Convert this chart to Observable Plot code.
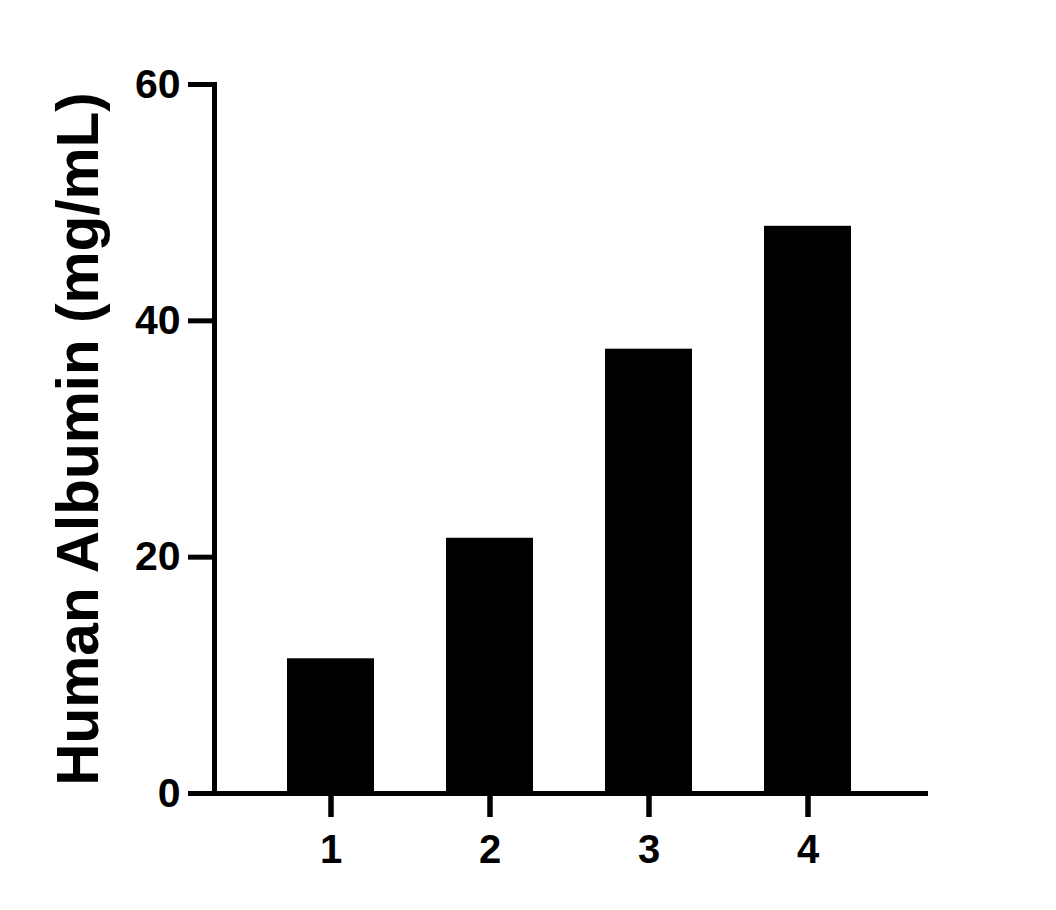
<!DOCTYPE html>
<html>
<head>
<meta charset="utf-8">
<script src="https://cdn.jsdelivr.net/npm/d3@7"></script>
<script src="https://cdn.jsdelivr.net/npm/@observablehq/plot@0.6"></script>
<style>
  html, body { margin: 0; padding: 0; background: #fff; }
</style>
</head>
<body>
<div id="chart"></div>
<script>
const categories = ["1", "2", "3", "4"];
const values = [11.4, 21.6, 37.6, 48.0];
const yTicks = [0, 20, 40, 60];
const yLabel = "Human Albumin (mg/mL)";

const data = categories.map((c, i) => ({cat: c, value: values[i]}));

const chart = Plot.plot({
  width: 1056,
  height: 910,
  marginTop: 84,
  marginBottom: 117,
  marginLeft: 214,
  marginRight: 131,
  style: {fontFamily: "'Liberation Sans', Arial, sans-serif", fontWeight: "bold", color: "black", background: "white"},
  x: {domain: categories, paddingInner: 0.45, paddingOuter: 0.46},
  y: {domain: [0, 60]},
  marks: [
    Plot.barY(data, {x: "cat", y: "value", fill: "black"}),
    Plot.frame({anchor: "left", stroke: "black", strokeWidth: 5, strokeLinecap: "square"}),
    Plot.frame({anchor: "bottom", stroke: "black", strokeWidth: 5}),
    Plot.axisY({ticks: yTicks, tickSize: 26, tickPadding: 8, strokeWidth: 5, fontSize: 41, label: null, stroke: "black", fill: "black"}),
    Plot.axisX({tickSize: 24, tickPadding: 17, strokeWidth: 5.5, fontSize: 40, label: null, stroke: "black", fill: "black"}),
    Plot.text([yLabel], {frameAnchor: "left", rotate: -90, dx: -117, lineAnchor: "bottom", textAnchor: "middle", fontSize: 58.5, fontWeight: "bold", fill: "black"})
  ]
});
document.getElementById("chart").appendChild(chart);
</script>
</body>
</html>
